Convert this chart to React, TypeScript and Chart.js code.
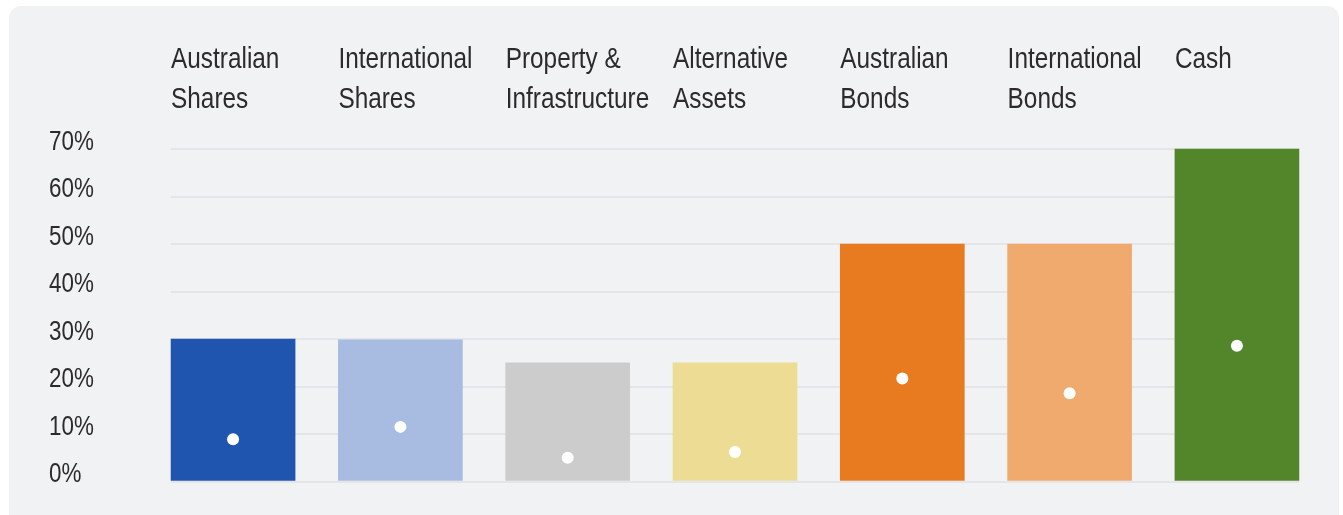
import React, { useEffect, useRef } from "react";
import { Chart, registerables } from "chart.js";

Chart.register(...registerables);

const categories: string[][] = [
  ["Australian", "Shares"],
  ["International", "Shares"],
  ["Property &", "Infrastructure"],
  ["Alternative", "Assets"],
  ["Australian", "Bonds"],
  ["International", "Bonds"],
  ["Cash"],
];
const barValues: number[] = [30, 29.8, 25, 25, 50, 50, 70];
const dotValues: number[] = [8.9, 11.5, 5.0, 6.2, 21.7, 18.6, 28.6];
const barColors: string[] = ["#1f55ae", "#a8bbe1", "#cccccc", "#ecdc94", "#e87b1f", "#f1aa6e", "#53862a"];
const yTickValues: number[] = [0, 10, 20, 30, 40, 50, 60, 70];

const FONT = "'Liberation Sans', Arial, sans-serif";
const TEXT_COLOR = "#2b2b2b";
const BAR_W = 124;
const X_MIN = -0.371;
const X_MAX = 6.371;

// Draws the axis texts in a narrow (horizontally condensed) face, at the scales' pixels.
const narrowLabels = {
  id: "narrowLabels",
  afterDraw(chart: any) {
    const ctx = chart.ctx as CanvasRenderingContext2D;
    const xs = chart.scales.x;
    const ys = chart.scales.y;
    ctx.save();
    ctx.fillStyle = TEXT_COLOR;
    ctx.textAlign = "left";
    ctx.textBaseline = "alphabetic";
    // category labels (top)
    ctx.font = `29px ${FONT}`;
    const sx = 0.84;
    categories.forEach((lines, i) => {
      const left = xs.getPixelForValue(i) - BAR_W / 2;
      lines.forEach((line, j) => {
        const base = 62 + j * 40;
        ctx.save();
        ctx.translate(left, base);
        ctx.scale(sx, 1);
        ctx.fillText(line, 0, 0);
        ctx.restore();
      });
    });
    // y tick labels (left)
    ctx.font = `28px ${FONT}`;
    const sy = 0.8;
    yTickValues.forEach((v) => {
      const py = ys.getPixelForValue(v);
      ctx.save();
      ctx.translate(ys.left, py + 0.5);
      ctx.scale(sy, 1);
      ctx.fillText(v + "%", 0, 0);
      ctx.restore();
    });
    ctx.restore();
  },
};

export default function App() {
  const ref = useRef<HTMLCanvasElement | null>(null);
  useEffect(() => {
    if (!ref.current) return;
    const chart = new Chart(ref.current, {
      type: "bar",
      data: {
        datasets: [
          {
            type: "scatter",
            data: dotValues.map((v, i) => ({ x: i, y: v })),
            backgroundColor: "#ffffff",
            borderColor: "#ffffff",
            borderWidth: 0,
            pointRadius: 6,
            order: 0,
          } as any,
          {
            type: "bar",
            data: barValues.map((v, i) => ({ x: i, y: v })),
            backgroundColor: barColors,
            barThickness: BAR_W,
            borderWidth: 0,
            order: 1,
            clip: false,
          } as any,
        ],
      },
      options: {
        responsive: false,
        animation: false,
        devicePixelRatio: 1,
        layout: { padding: { left: 40, right: 40, top: 0, bottom: 33.5 } },
        plugins: { legend: { display: false }, tooltip: { enabled: false } },
        scales: {
          x: {
            type: "linear",
            position: "top",
            offset: false,
            min: X_MIN,
            max: X_MAX,
            border: { display: false },
            grid: { display: false, drawTicks: false, offset: false },
            ticks: { display: false },
            afterFit: (axis: any) => {
              axis.height = 143;
            },
          },
          y: {
            type: "linear",
            min: 0,
            max: 70,
            border: { display: false },
            grid: { color: "#e4e5e8", lineWidth: 2, drawTicks: false },
            afterBuildTicks: (axis: any) => {
              axis.ticks = yTickValues.map((v) => ({ value: v }));
            },
            ticks: { display: false },
            afterFit: (axis: any) => {
              axis.width = 122;
            },
          },
        },
      } as any,
      plugins: [narrowLabels],
    });
    return () => chart.destroy();
  }, []);

  return (
    <div
      style={{
        position: "absolute",
        left: 9,
        top: 6,
        width: 1330,
        height: 509,
        background: "#f1f2f4",
        borderRadius: "12px 12px 0 0",
        overflow: "hidden",
      }}
    >
      <canvas ref={ref} width={1330} height={509} style={{ display: "block", width: 1330, height: 509 }} />
    </div>
  );
}
